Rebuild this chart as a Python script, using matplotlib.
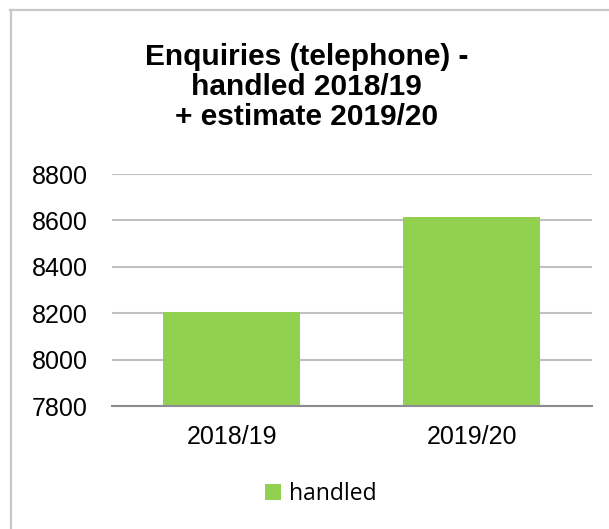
import matplotlib.pyplot as plt
from matplotlib.lines import Line2D
from matplotlib.patches import Patch

# ---------------------------------------------
# Data
# ---------------------------------------------

years = ["2018/19", "2019/20"]
handled = [8205, 8615]
y_ticks = [7800, 8000, 8200, 8400, 8600, 8800]

BAR_COLOUR = "#92D050"
GRID_COLOUR = "#C0C0C0"
AXIS_COLOUR = "#8C8C8C"

plt.rcParams["font.family"] = ["Liberation Sans", "DejaVu Sans"]

# ---------------------------------------------
# Figure
# ---------------------------------------------

fig = plt.figure(figsize=(6.09, 5.29), dpi=100)
ax = fig.add_axes([0.1834, 0.2325, 0.7882, 0.4385])

x = range(len(years))
ax.bar(x, handled, width=0.573, color=BAR_COLOUR, zorder=3)

ax.set_xlim(-0.5, len(years) - 0.5)
ax.set_ylim(y_ticks[0], y_ticks[-1])
ax.set_yticks(y_ticks)
ax.set_xticks(list(x))
ax.set_xticklabels(years)

ax.grid(axis="y", color=GRID_COLOUR, linewidth=1.5, zorder=0)
ax.tick_params(axis="both", length=0, labelsize=18, colors="black")
ax.tick_params(axis="y", pad=17)
ax.tick_params(axis="x", pad=14)

for side in ["top", "right", "left"]:
    ax.spines[side].set_visible(False)
ax.spines["bottom"].set_color(AXIS_COLOUR)
ax.spines["bottom"].set_linewidth(1.5)
ax.spines["bottom"].set_zorder(4)

fig.text(
    0.503, 0.918,
    "Enquiries (telephone) -\nhandled 2018/19\n+ estimate 2019/20",
    ha="center", va="top",
    fontsize=21.5, fontweight="bold",
    linespacing=1.08,
)

fig.legend(
    handles=[Patch(facecolor=BAR_COLOUR, label="handled")],
    loc="center",
    bbox_to_anchor=(0.527, 0.066),
    frameon=False,
    handlelength=0.7,
    handleheight=0.7,
    handletextpad=0.35,
    prop={"family": "Open Sans", "size": 16.5},
)

# frame lines along the top and left edges
fig.add_artist(Line2D([10 / 609, 1], [1 - 10 / 529] * 2,
                      transform=fig.transFigure, color="#C8C8C8", linewidth=1.6))
fig.add_artist(Line2D([11 / 609] * 2, [0, 1 - 10 / 529],
                      transform=fig.transFigure, color="#C8C8C8", linewidth=1.6))

fig.savefig("out.png", dpi=100, facecolor="white")
